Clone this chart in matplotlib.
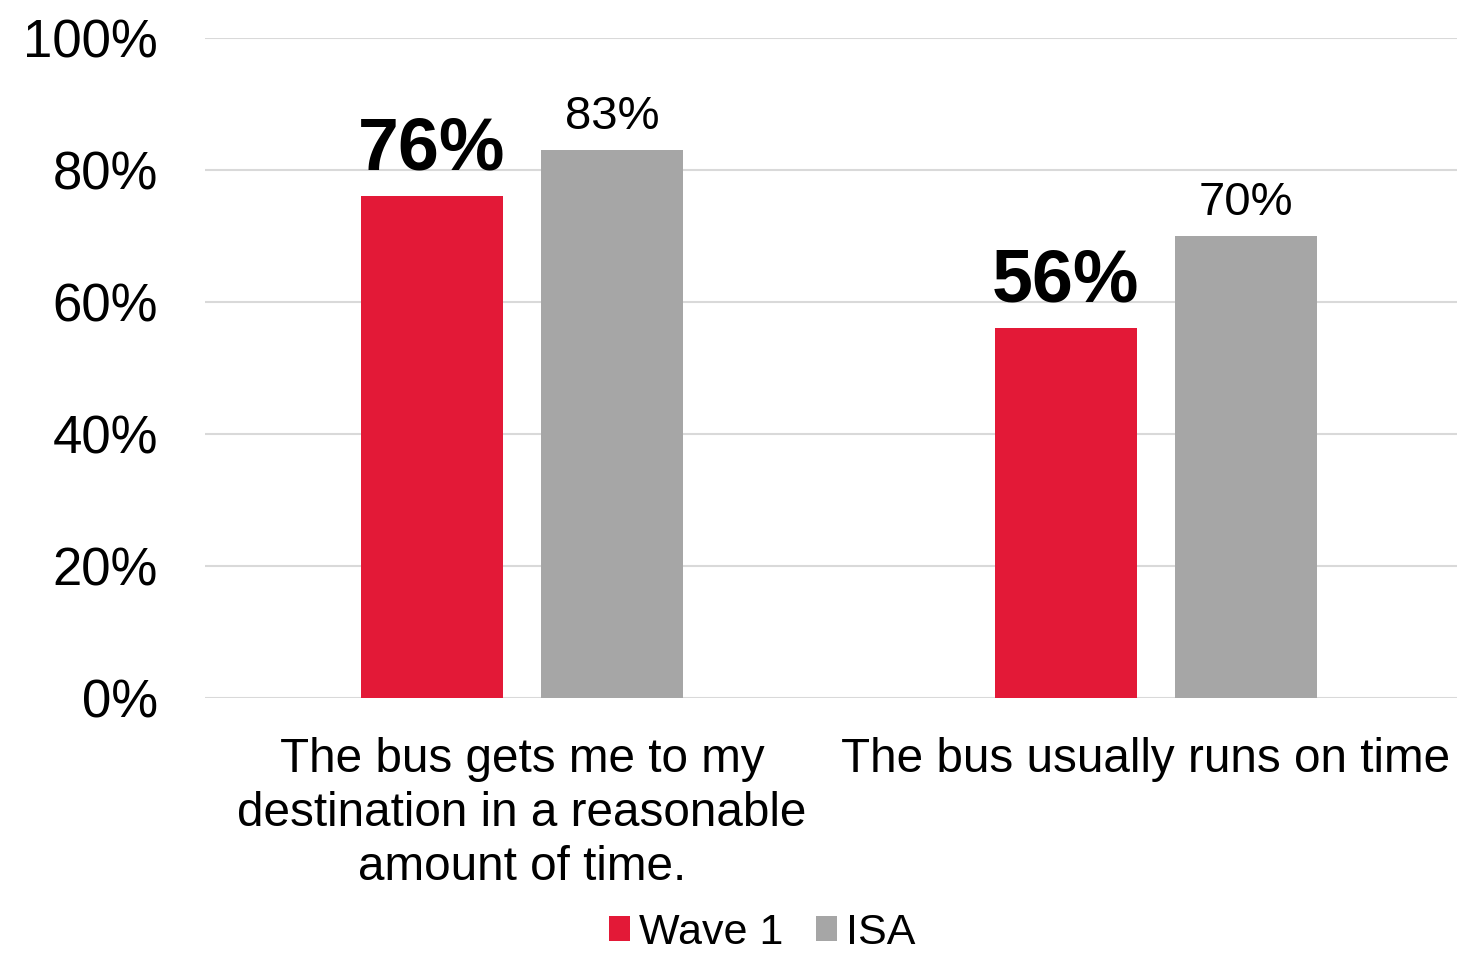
import matplotlib.pyplot as plt
import numpy as np
from matplotlib.ticker import PercentFormatter
from matplotlib.transforms import ScaledTranslation

plt.rcParams['font.family'] = ['Liberation Sans', 'DejaVu Sans']

categories = ["The bus gets me to my\ndestination in a reasonable\namount of time.",
              "The bus usually runs on time"]
wave1 = [76, 56]
isa = [83, 70]
series_names = ["Wave 1", "ISA"]
colors = ["#E31937", "#A6A6A6"]

fig = plt.figure(figsize=(14.57, 9.57), dpi=100)
ax = fig.add_axes([0.1407, 0.2706, 0.8593, 0.6897])

x = np.arange(len(categories))
w = 0.224
off = 0.1425

b1 = ax.bar(x - off, wave1, w, color=colors[0], label=series_names[0], zorder=3)
b2 = ax.bar(x + off, isa, w, color=colors[1], label=series_names[1], zorder=3)

# data labels: wave 1 large bold, ISA regular
for rect, v in zip(b1, wave1):
    ax.text(rect.get_x() + rect.get_width() / 2, v + 1.8, f"{v}%",
            ha='center', va='bottom', fontsize=53, fontweight='bold')
for rect, v in zip(b2, isa):
    ax.text(rect.get_x() + rect.get_width() / 2, v + 1.7, f"{v}%",
            ha='center', va='bottom', fontsize=34)

ax.set_ylim(0, 100)
ax.set_xlim(-0.5, -0.5 + 1252 / 634)
ax.set_yticks(np.arange(0, 101, 20))
ax.yaxis.set_major_formatter(PercentFormatter(decimals=0))
ax.set_xticks(x)
ax.set_xticklabels(categories, fontsize=34.3, linespacing=1.26)
ax.tick_params(axis='y', labelsize=38, length=0, pad=34)
ax.tick_params(axis='x', length=0, pad=28)
ax.grid(axis='y', color='#D9D9D9', linewidth=1.5, zorder=0)
for s in ax.spines.values():
    s.set_visible(False)

# second label sits a bit left so it stays inside the figure
lbl = ax.get_xticklabels()[1]
lbl.set_transform(lbl.get_transform() + ScaledTranslation(-0.1, 0, fig.dpi_scale_trans))

fig.legend(loc='lower center', bbox_to_anchor=(0.523, -0.036), ncol=2, frameon=False,
           fontsize=31, handlelength=0.5, handleheight=0.5, handletextpad=0.2,
           columnspacing=0.75)

fig.savefig("out.png", dpi=100)
